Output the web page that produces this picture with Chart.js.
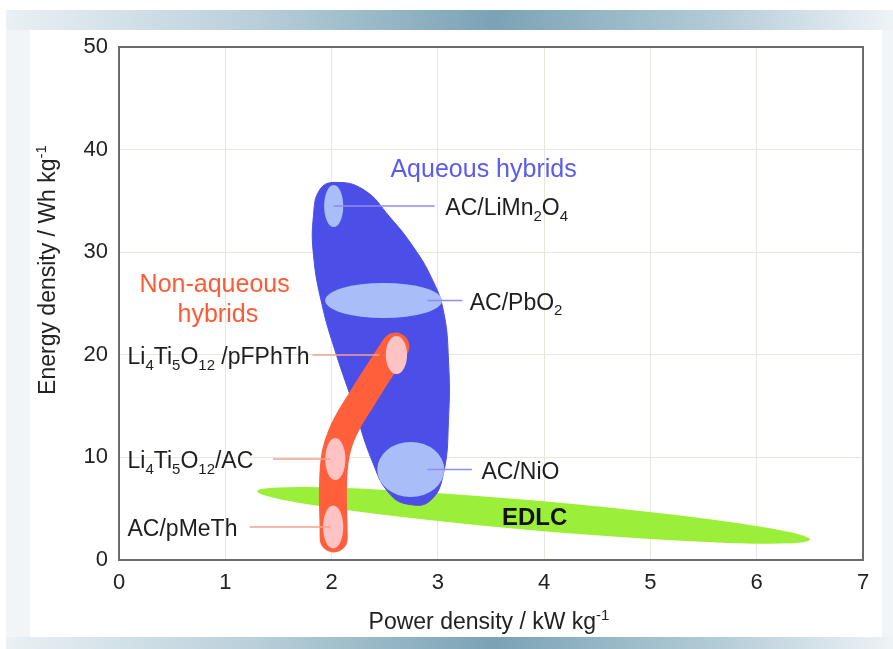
<!DOCTYPE html>
<html>
<head>
<meta charset="utf-8">
<title>Ragone plot - hybrid capacitors</title>
<script src="https://cdn.jsdelivr.net/npm/chart.js@4.4.1/dist/chart.umd.min.js"></script>
<style>
  html, body { margin: 0; padding: 0; background: #fff; }
  body { width: 893px; height: 649px; position: relative; overflow: hidden; }
  .frame { position: absolute; left: 6px; top: 10px; width: 887px; height: 639px; background: #f1f5f8; }
  .band { position: absolute; left: 6px; width: 887px;
    background: linear-gradient(90deg, #eaf0f4 0%, #b9cfda 28%, #7aa3b5 55%, #b3cbd7 80%, #eef3f6 100%); }
  .band.top { top: 10px; height: 20px; }
  .band.bottom { top: 637px; height: 12px; }
  .panel { position: absolute; left: 30px; top: 30px; width: 852px; height: 607px; background: #fff; }
  #chart { position: absolute; left: 0; top: 0; }
</style>
</head>
<body>
<div class="frame"></div>
<div class="band top"></div>
<div class="band bottom"></div>
<div class="panel"></div>
<canvas id="chart" width="893" height="649"></canvas>
<script>
// axis ticks
const powerTicks = [0, 1, 2, 3, 4, 5, 6, 7];
const energyTicks = [0, 10, 20, 30, 40, 50];

// aqueous hybrids region outline (kW/kg, Wh/kg), read clockwise from the top
const aqueousPower = [2.03, 2.30, 2.55, 2.77, 2.94, 3.05, 3.10, 3.10, 3.05, 2.93,
  2.74, 2.55, 2.38, 2.20, 2.03, 1.91, 1.83, 1.83, 1.89];
const aqueousEnergy = [36.8, 36.1, 33.4, 30.5, 27.5, 24.4, 19.5, 13.6, 8.3, 5.8,
  5.4, 6.4, 9.7, 15.3, 20.5, 24.9, 29.7, 33.6, 36.1];

// non-aqueous hybrids band (centre line)
const nonAqueousPower = [2.60, 2.29, 2.09, 2.02, 2.02];
const nonAqueousEnergy = [20.8, 15.8, 12.1, 8.8, 2.1];

// EDLC band, end to end
const edlcPower = [1.30, 6.50];
const edlcEnergy = [6.7, 2.0];
const edlcSpread = 1.45;

// individual cells: ranges of power and energy density
const cellNames = ['AC/LiMn_{2}O_{4}', 'AC/PbO_{2}', 'AC/NiO',
  'Li_{4}Ti_{5}O_{12} /pFPhTh', 'Li_{4}Ti_{5}O_{12}/AC', 'AC/pMeTh'];
const cellPowerMin = [1.93, 1.94, 2.43, 2.51, 1.94, 1.92];
const cellPowerMax = [2.11, 3.04, 3.06, 2.71, 2.13, 2.11];
const cellEnergyMin = [32.45, 23.58, 6.14, 18.13, 7.79, 1.12];
const cellEnergyMax = [36.55, 27.00, 11.50, 21.83, 11.89, 5.32];

const FONT = '"Liberation Sans", Arial, Helvetica, sans-serif';
const BLUE = '#4b4fe8';
const RED = '#ff5f3a';

// callout layout (which cell, line span and text anchor in axis units)
const callouts = [
  { cell: 0, from: 2.02, to: 2.97, textAt: 3.07, line: '#8d8df3', fill: '#a9bdf8' },
  { cell: 1, from: 2.90, to: 3.23, textAt: 3.30, line: '#8d8df3', fill: '#a9bdf8' },
  { cell: 2, from: 2.90, to: 3.32, textAt: 3.41, line: '#8d8df3', fill: '#a9bdf8' },
  { cell: 3, from: 1.82, to: 2.45, textAt: 0.08, line: '#f3a18f', fill: '#ffc3c3' },
  { cell: 4, from: 1.45, to: 1.99, textAt: 0.08, line: '#f3a18f', fill: '#ffc3c3' },
  { cell: 5, from: 1.23, to: 1.99, textAt: 0.08, line: '#f3a18f', fill: '#ffc3c3' },
];

const groupLabels = [
  { text: 'Aqueous hybrids', x: 3.43, y: 38.2, color: '#5a5aef', size: 25, weight: '' },
  { text: 'Non-aqueous', x: 0.90, y: 27.0, color: '#ff5a36', size: 25, weight: '' },
  { text: 'hybrids', x: 0.93, y: 24.1, color: '#ff5a36', size: 25, weight: '' },
  { text: 'EDLC', x: 3.91, y: 4.3, color: '#111', size: 24, weight: 'bold' },
];

// text with _{sub} and ^{sup} parts, y is the visual middle
function drawRich(ctx, text, x, y, size, align, weight) {
  const parts = [];
  const re = /([_^])\{([^}]*)\}|([^_^]+)/g;
  let m;
  while ((m = re.exec(text))) {
    if (m[3]) parts.push({ t: m[3], k: 0 });
    else parts.push({ t: m[2], k: m[1] === '_' ? 1 : -1 });
  }
  const fontFor = (k) => (weight || '') + ' ' + (k ? Math.round(size * 0.64) : size) + 'px ' + FONT;
  let w = 0;
  parts.forEach((p) => {
    ctx.font = fontFor(p.k);
    p.w = ctx.measureText(p.t).width;
    w += p.w;
  });
  let cx = align === 'center' ? x - w / 2 : align === 'right' ? x - w : x;
  const base = y + size * 0.36;
  ctx.textAlign = 'left';
  ctx.textBaseline = 'alphabetic';
  parts.forEach((p) => {
    ctx.font = fontFor(p.k);
    const dy = p.k > 0 ? size * 0.24 : p.k < 0 ? -size * 0.4 : 0;
    ctx.fillText(p.t, cx, base + dy);
    cx += p.w;
  });
}

const regionsPlugin = {
  id: 'regions',
  beforeDatasetsDraw(chart) {
    const { ctx, scales: { x, y } } = chart;
    const x1 = x.getPixelForValue(edlcPower[0]), y1 = y.getPixelForValue(edlcEnergy[0]);
    const x2 = x.getPixelForValue(edlcPower[1]), y2 = y.getPixelForValue(edlcEnergy[1]);
    const a = Math.hypot(x2 - x1, y2 - y1) / 2;
    const b = Math.abs(y.getPixelForValue(0) - y.getPixelForValue(edlcSpread));
    ctx.save();
    ctx.fillStyle = '#9bef38';
    ctx.beginPath();
    ctx.ellipse((x1 + x2) / 2, (y1 + y2) / 2, a, b, Math.atan2(y2 - y1, x2 - x1), 0, Math.PI * 2);
    ctx.fill();
    ctx.restore();
  },
  afterDatasetsDraw(chart) {
    const { ctx, scales: { x, y } } = chart;
    ctx.save();
    // cell ellipses
    callouts.forEach((c) => {
      const i = c.cell;
      const l = x.getPixelForValue(cellPowerMin[i]), r = x.getPixelForValue(cellPowerMax[i]);
      const t = y.getPixelForValue(cellEnergyMax[i]), b = y.getPixelForValue(cellEnergyMin[i]);
      ctx.fillStyle = c.fill;
      ctx.beginPath();
      ctx.ellipse((l + r) / 2, (t + b) / 2, (r - l) / 2, (b - t) / 2, 0, 0, Math.PI * 2);
      ctx.fill();
    });
    // callout lines and names
    callouts.forEach((c) => {
      const i = c.cell;
      const py = y.getPixelForValue((cellEnergyMin[i] + cellEnergyMax[i]) / 2);
      ctx.strokeStyle = c.line;
      ctx.lineWidth = 1.6;
      ctx.beginPath();
      ctx.moveTo(x.getPixelForValue(c.from), py);
      ctx.lineTo(x.getPixelForValue(c.to), py);
      ctx.stroke();
      ctx.fillStyle = '#1e1e1e';
      drawRich(ctx, cellNames[i], x.getPixelForValue(c.textAt), py + 1, 23, 'left');
    });
    groupLabels.forEach((g) => {
      ctx.fillStyle = g.color;
      drawRich(ctx, g.text, x.getPixelForValue(g.x), y.getPixelForValue(g.y), g.size, 'center', g.weight);
    });
    ctx.restore();
  },
  afterDraw(chart) {
    const { ctx, chartArea: a } = chart;
    ctx.save();
    ctx.strokeStyle = '#6c6c6c';
    ctx.lineWidth = 2;
    ctx.strokeRect(a.left, a.top, a.right - a.left, a.bottom - a.top);
    // axis titles
    ctx.fillStyle = '#222';
    drawRich(ctx, 'Power density / kW kg^{-1}', (a.left + a.right) / 2 - 2, 621, 23, 'center');
    ctx.translate(47, 270);
    ctx.rotate(-Math.PI / 2);
    drawRich(ctx, 'Energy density / Wh kg^{-1}', 0, 0, 23, 'center');
    ctx.restore();
  },
};

const toPoints = (xs, ys) => xs.map((v, i) => ({ x: v, y: ys[i] }));
const aqueousPts = toPoints(aqueousPower, aqueousEnergy);
// wrap the outline so the smoothed curve closes without a corner
const aqueousRing = [...aqueousPts.slice(-1), ...aqueousPts, ...aqueousPts.slice(0, 2)];

Chart.defaults.font.family = FONT;

new Chart(document.getElementById('chart'), {
  type: 'scatter',
  data: {
    datasets: [
      {
        label: 'Non-aqueous hybrids',
        data: toPoints(nonAqueousPower, nonAqueousEnergy),
        showLine: true,
        borderColor: RED,
        borderWidth: 28,
        borderCapStyle: 'round',
        borderJoinStyle: 'round',
        tension: 0.4,
        pointRadius: 0,
        fill: false,
        order: 1,
      },
      {
        label: 'Aqueous hybrids',
        data: aqueousRing,
        showLine: true,
        borderColor: BLUE,
        backgroundColor: BLUE,
        borderWidth: 1,
        tension: 0.45,
        pointRadius: 0,
        fill: 'shape',
        order: 2,
      },
    ],
  },
  options: {
    responsive: false,
    animation: false,
    events: [],
    layout: { padding: { left: 0, top: 47, right: 30, bottom: 0 } },
    plugins: { legend: { display: false }, tooltip: { enabled: false } },
    scales: {
      x: {
        type: 'linear',
        min: 0,
        max: 7,
        afterBuildTicks: (s) => { s.ticks = powerTicks.map((v) => ({ value: v })); },
        afterFit: (s) => { s.height = 89; },
        grid: { color: '#e7e7dd', lineWidth: 1, drawTicks: false },
        border: { display: false },
        ticks: { color: '#222', font: { size: 22 }, padding: 10 },
      },
      y: {
        type: 'linear',
        min: 0,
        max: 50,
        afterBuildTicks: (s) => { s.ticks = energyTicks.map((v) => ({ value: v })); },
        afterFit: (s) => { s.width = 119; },
        grid: { color: '#e7e7dd', lineWidth: 1, drawTicks: false },
        border: { display: false },
        ticks: { color: '#222', font: { size: 22 }, padding: 11 },
      },
    },
  },
  plugins: [regionsPlugin],
});
</script>
</body>
</html>
